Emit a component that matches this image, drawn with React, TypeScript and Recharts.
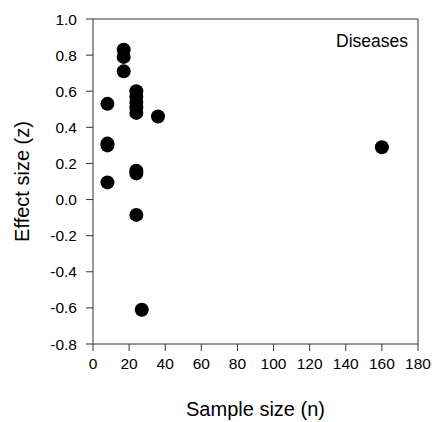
import { ScatterChart, Scatter, XAxis, YAxis, ReferenceLine } from 'recharts';

const sampleSize = [8, 8, 8, 8, 17, 17, 17, 24, 24, 24, 24, 24, 36, 24, 24, 24, 27, 160];
const effectSize = [0.53, 0.31, 0.3, 0.095, 0.83, 0.79, 0.71, 0.6, 0.57, 0.54, 0.51, 0.48, 0.46, 0.16, 0.145, -0.085, -0.61, 0.29];
const xTicks = [0, 20, 40, 60, 80, 100, 120, 140, 160, 180];
const yTicks = [-0.8, -0.6, -0.4, -0.2, 0, 0.2, 0.4, 0.6, 0.8, 1.0];

const points = sampleSize.map((n, i) => ({ n, z: effectSize[i] }));

const font = 'Arial, "Liberation Sans", sans-serif';

const Dot = (props: any) => <circle cx={props.cx} cy={props.cy} r={7} fill='#000' />;

export default function App() {
	return (
		<div style={{ position: 'absolute', left: 0, top: 0, width: 439, height: 422, background: '#fff', fontFamily: font }}>
			<ScatterChart width={439} height={422} margin={{ top: 19, right: 21, left: 0, bottom: 0 }}>
				<XAxis
					type='number'
					dataKey='n'
					domain={[0, 180]}
					ticks={xTicks}
					interval={0}
					height={78}
					tickSize={7}
					tickMargin={7}
					stroke='#333'
					tick={{ fill: '#000', fontSize: 15.5, fontFamily: font }}
					label={{ value: 'Sample size (n)', position: 'insideBottom', offset: 6, fill: '#000', fontSize: 20, fontFamily: font }}
				/>
				<YAxis
					type='number'
					dataKey='z'
					domain={[-0.8, 1.0]}
					ticks={yTicks}
					interval={0}
					width={93}
					tickSize={7}
					tickMargin={9}
					stroke='#333'
					tickFormatter={(v: number) => v.toFixed(1)}
					tick={{ fill: '#000', fontSize: 15.5, fontFamily: font }}
					label={{ value: 'Effect size (z)', angle: -90, position: 'insideLeft', offset: 22, fill: '#000', fontSize: 20, fontFamily: font, style: { textAnchor: 'middle' } }}
				/>
				<ReferenceLine y={1.0} stroke='#333' />
				<ReferenceLine x={180} stroke='#333' />
				<Scatter data={points} shape={Dot} isAnimationActive={false} />
			</ScatterChart>
			<div style={{ position: 'absolute', left: 336, top: 31, fontSize: 17.5, color: '#000', lineHeight: '20px' }}>Diseases</div>
		</div>
	);
}
